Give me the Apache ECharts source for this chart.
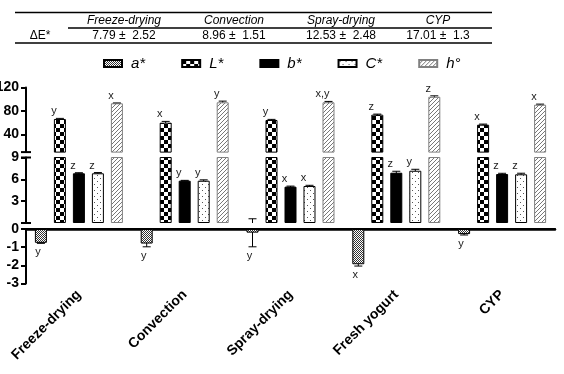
<!DOCTYPE html>
<html>
<head>
<meta charset="utf-8">
<script src="https://cdn.jsdelivr.net/npm/echarts@6/dist/echarts.min.js"></script>
<style>
  html, body { margin: 0; padding: 0; background: #fff; }
  #main { width: 564px; height: 374px; }
</style>
</head>
<body>
<div id="main"></div>
<script>
// colour attributes per drying method
var categories = ['Freeze-drying', 'Convection', 'Spray-drying', 'Fresh yogurt', 'CYP'];
var attrNames = ['a*', 'L*', 'b*', 'C*', 'h°'];

var aStar = [-0.76, -0.80, -0.20, -1.94, -0.28];
var aStarSd = [0.03, 0.18, 0.78, 0.10, 0.05];
var lStar = [66.4, 60.1, 64.7, 73.7, 56.7];
var lStarSd = [1.0, 2.2, 1.0, 1.0, 1.0];
var bStar = [6.83, 5.81, 4.99, 6.91, 6.73];
var bStarSd = [0.08, 0.05, 0.08, 0.20, 0.10];
var cStar = [6.83, 5.81, 5.08, 7.18, 6.69];
var cStarSd = [0.10, 0.12, 0.10, 0.20, 0.15];
var hue = [93.1, 94.8, 94.8, 104.3, 90.7];
var hueSd = [0.6, 2.0, 1.5, 1.5, 1.0];

var aLetters = ['y', 'y', 'y', 'x', 'y'];
var lLetters = ['y', 'x', 'y', 'z', 'x'];
var bLetters = ['z', 'y', 'x', 'z', 'z'];
var cLetters = ['z', 'y', 'x', 'y', 'z'];
var hLetters = ['x', 'y', 'x,y', 'z', 'x'];

// ΔE* table
var tableCols = ['Freeze-drying', 'Convection', 'Spray-drying', 'CYP'];
var deltaE = ['7.79', '8.96', '12.53', '17.01'];
var deltaESd = ['2.52', '1.51', '2.48', '1.3'];

// axis segments (broken y axis)
var segTopTicks = [40, 80, 120];
var segMidTicks = [3, 6, 9];

var means = [aStar, lStar, bStar, cStar, hue];
var sds = [aStarSd, lStarSd, bStarSd, cStarSd, hueSd];
var letters = [aLetters, lLetters, bLetters, cLetters, hLetters];

var FONT = '"Liberation Sans", Arial, sans-serif';
var BAR_W = 12;
var STEP = 19;

function makePattern(size, draw) {
	var c = document.createElement('canvas');
	c.width = size;
	c.height = size;
	var g = c.getContext('2d');
	g.fillStyle = '#fff';
	g.fillRect(0, 0, size, size);
	draw(g);
	return { image: c, repeat: 'repeat' };
}

var styles = [
	{ // a* fine grid
		color: makePattern(2, function(g) {
			g.fillStyle = '#333';
			g.fillRect(0, 0, 1, 1);
			g.fillRect(1, 1, 1, 1);
		}),
		borderColor: '#000', borderWidth: 1
	},
	{ // L* checkerboard
		color: makePattern(8, function(g) {
			g.fillStyle = '#000';
			g.fillRect(0, 0, 4, 4);
			g.fillRect(4, 4, 4, 4);
		}),
		borderColor: '#000', borderWidth: 1
	},
	{ color: '#000', borderColor: '#000', borderWidth: 1 },
	{ // C* dots
		color: makePattern(6, function(g) {
			g.fillStyle = '#555';
			g.fillRect(1, 1, 1, 1);
			g.fillRect(4, 4, 1, 1);
		}),
		borderColor: '#000', borderWidth: 1
	},
	{ // h° hatch
		color: makePattern(4, function(g) {
			g.fillStyle = '#777';
			for (var i = 0; i < 4; i++) {
				g.fillRect(i, 3 - i, 1, 1);
			}
		}),
		borderColor: '#808080', borderWidth: 1
	}
];

function segOf(v) {
	if (v < 0) return 2;
	if (v <= 9) return 1;
	return 0;
}

function renderErr(params, api) {
	var cat = api.value(0), k = api.value(1), m = api.value(2), s = api.value(3);
	var x = api.coord([cat, m])[0] + (k - 2) * STEP;
	var lo = api.coord([cat, m - s])[1];
	var hi = api.coord([cat, m + s])[1];
	var ls = { stroke: '#000', lineWidth: 1 };
	return {
		type: 'group',
		children: [
			{ type: 'line', shape: { x1: x, y1: lo, x2: x, y2: hi }, style: ls },
			{ type: 'line', shape: { x1: x - 4, y1: hi, x2: x + 4, y2: hi }, style: ls },
			{ type: 'line', shape: { x1: x - 4, y1: lo, x2: x + 4, y2: lo }, style: ls }
		]
	};
}

function renderLetter(params, api) {
	var cat = api.value(0), k = api.value(1), m = api.value(2), s = api.value(3);
	var end = api.coord([cat, m >= 0 ? m + s : m - s]);
	var x = end[0] + (k - 2) * STEP + (m >= 0 ? -6 : -3);
	var y = end[1] + (m >= 0 ? -7 : 9);
	return {
		type: 'text',
		x: x,
		y: y,
		style: {
			text: letters[k][cat],
			fill: '#222',
			font: '11px ' + FONT,
			align: 'center',
			verticalAlign: 'middle'
		}
	};
}

var grids = [
	{ left: 26, right: 9, top: 87.5, height: 64.6, outerBoundsMode: 'none' },
	{ left: 26, right: 9, top: 157.5, height: 65.5, outerBoundsMode: 'none' },
	{ left: 26, right: 9, top: 229, height: 54.5, outerBoundsMode: 'none' }
];

var axisLine = { color: '#000', width: 2 };
var yLabel = { color: '#000', fontWeight: 'bold', fontSize: 14, fontFamily: FONT, margin: 7 };

var xAxes = [
	{ gridIndex: 0, type: 'category', data: categories, show: false },
	{ gridIndex: 1, type: 'category', data: categories, show: false },
	{
		gridIndex: 2, type: 'category', data: categories, position: 'bottom',
		axisLine: { lineStyle: axisLine },
		axisTick: { alignWithLabel: true, length: 5, lineStyle: { color: '#000', width: 2 } },
		axisLabel: { rotate: 45, interval: 0, margin: 9, color: '#000', fontWeight: 'bold', fontSize: 14, fontFamily: FONT }
	},
	{
		gridIndex: 2, type: 'category', data: categories, position: 'top',
		axisLine: { lineStyle: { color: '#000', width: 2.5 } },
		axisTick: { show: false }, axisLabel: { show: false }
	}
];

var yAxes = [
	{
		gridIndex: 0, type: 'value', min: 10, max: 120,
		axisLine: { show: true, symbol: ['rect', 'none'], symbolSize: [10, 2], lineStyle: axisLine },
		axisTick: { show: true, customValues: segTopTicks, length: 5, lineStyle: { color: '#000', width: 2 } },
		axisLabel: Object.assign({ customValues: segTopTicks }, yLabel),
		splitLine: { show: false }
	},
	{
		gridIndex: 1, type: 'value', min: 0, max: 9,
		axisLine: { show: true, symbol: ['rect', 'rect'], symbolSize: [10, 2], lineStyle: axisLine },
		axisTick: { show: true, customValues: segMidTicks, length: 5, lineStyle: { color: '#000', width: 2 } },
		axisLabel: Object.assign({ customValues: segMidTicks }, yLabel),
		splitLine: { show: false }
	},
	{
		gridIndex: 2, type: 'value', min: -3, max: 0, interval: 1,
		axisLine: { show: true, lineStyle: axisLine },
		axisTick: { show: true, length: 5, lineStyle: { color: '#000', width: 2 } },
		axisLabel: yLabel,
		splitLine: { show: false }
	}
];

var series = [];
for (var g = 0; g < 3; g++) {
	var xi = g;
	var errData = [];
	var letterData = [];
	for (var k = 0; k < attrNames.length; k++) {
		series.push({
			type: 'bar',
			name: attrNames[k],
			xAxisIndex: xi,
			yAxisIndex: g,
			data: means[k],
			barWidth: BAR_W,
			barGap: '58.33%',
			clip: true,
			z: 3,
			itemStyle: styles[k],
			emphasis: { disabled: true }
		});
		for (var c = 0; c < categories.length; c++) {
			errData.push([c, k, means[k][c], sds[k][c]]);
			if (segOf(means[k][c]) === g) {
				letterData.push([c, k, means[k][c], sds[k][c]]);
			}
		}
	}
	series.push({
		type: 'custom', xAxisIndex: xi, yAxisIndex: g, z: 2, clip: true,
		encode: { x: 0, y: 2 }, renderItem: renderErr, data: errData, silent: true
	});
	series.push({
		type: 'custom', xAxisIndex: xi, yAxisIndex: g, z: 4, clip: false,
		encode: { x: 0, y: 2 }, renderItem: renderLetter, data: letterData, silent: true
	});
}

// table on top
var colX = [124, 234, 341, 438];
var tableGraphic = [
	{ type: 'line', shape: { x1: 15, y1: 12.5, x2: 492, y2: 12.5 }, style: { stroke: '#000', lineWidth: 1.3 } },
	{ type: 'line', shape: { x1: 68, y1: 28, x2: 492, y2: 28 }, style: { stroke: '#000', lineWidth: 1.3 } },
	{ type: 'line', shape: { x1: 15, y1: 43, x2: 492, y2: 43 }, style: { stroke: '#000', lineWidth: 1.3 } },
	{ type: 'text', x: 40, y: 35.5, style: { text: 'ΔE*', font: '12px ' + FONT, fill: '#000', align: 'center', verticalAlign: 'middle' } }
];
for (var i = 0; i < tableCols.length; i++) {
	tableGraphic.push({
		type: 'text', x: colX[i], y: 20.5,
		style: { text: tableCols[i], font: 'italic 12px ' + FONT, fill: '#000', align: 'center', verticalAlign: 'middle' }
	});
	tableGraphic.push({
		type: 'text', x: colX[i], y: 35.5,
		style: { text: deltaE[i] + ' \u00b1  ' + deltaESd[i], font: '12px ' + FONT, fill: '#000', align: 'center', verticalAlign: 'middle' }
	});
}

var myChart = echarts.init(document.getElementById('main'), null, { renderer: 'canvas' });
var option = {
	animation: false,
	backgroundColor: '#fff',
	textStyle: { fontFamily: FONT },
	legend: {
		data: attrNames,
		top: 51,
		left: 98,
		icon: 'rect',
		itemWidth: 18,
		itemHeight: 7,
		itemGap: 36,
		selectedMode: false,
		textStyle: { fontStyle: 'italic', fontSize: 15, color: '#000', fontFamily: FONT, padding: [0, 0, 0, 4] }
	},
	grid: grids,
	xAxis: xAxes,
	yAxis: yAxes,
	series: series,
	graphic: tableGraphic
};
myChart.setOption(option);
</script>
</body>
</html>
